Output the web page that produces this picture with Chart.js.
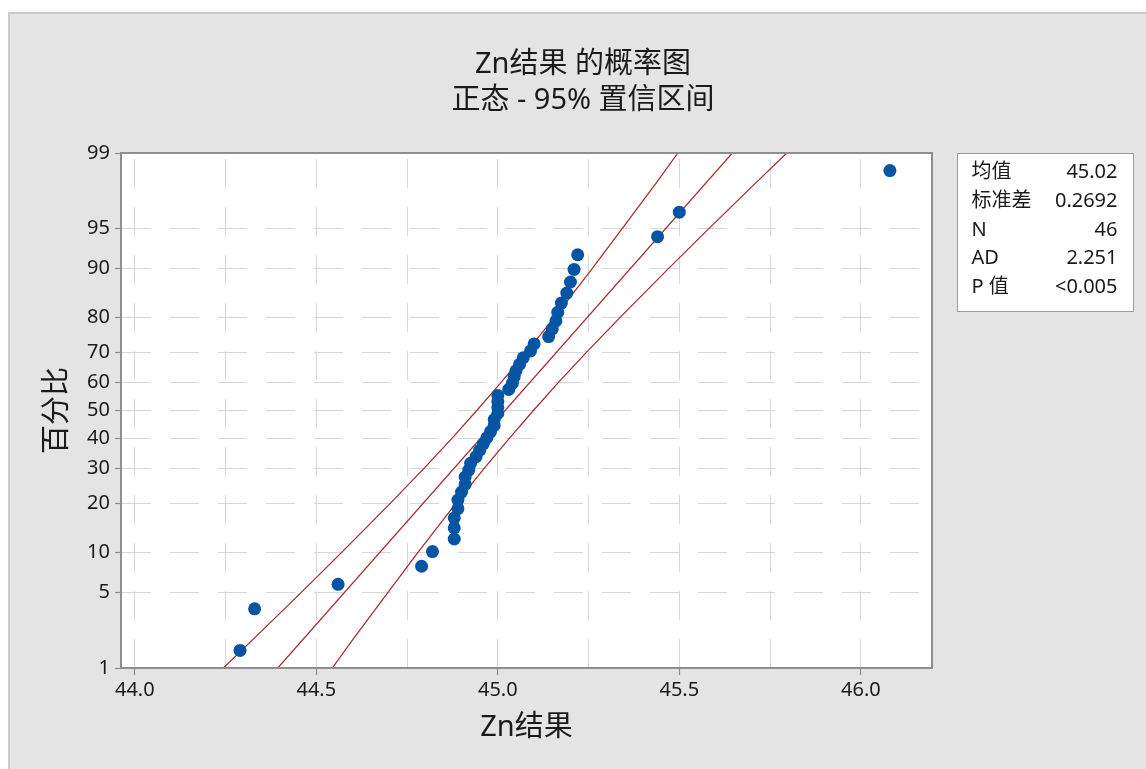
<!DOCTYPE html>
<html>
<head>
<meta charset="utf-8">
<script src="https://cdn.jsdelivr.net/npm/chart.js@4.4.1/dist/chart.umd.min.js"></script>
<style>
  html, body { margin: 0; padding: 0; background: #fff; width: 1146px; height: 769px; overflow: hidden; position: relative; }
  #panel { position: absolute; left: 8px; top: 12px; width: 1200px; height: 800px; background: #e4e4e4;
           border-left: 2px solid #cbcbcb; border-top: 2px solid #cbcbcb; }
  #c { position: absolute; left: 0; top: 0; }
</style>
</head>
<body>
<div id="panel"></div>
<canvas id="c" width="1146" height="769"></canvas>
<script>
// Zn results, sorted
const znValues = [
  44.29, 44.33, 44.56, 44.79, 44.82, 44.88, 44.88, 44.88, 44.89, 44.89,
  44.90, 44.91, 44.91, 44.92, 44.925, 44.94, 44.95, 44.96, 44.97, 44.98,
  44.99, 44.99, 45.00, 45.00, 45.00, 45.00, 45.03, 45.04, 45.045, 45.05,
  45.06, 45.07, 45.09, 45.10, 45.14, 45.15, 45.16, 45.165, 45.175, 45.19,
  45.20, 45.21, 45.22, 45.44, 45.50, 46.08
];
// cumulative percent (median ranks) for each sorted value
const znPercent = [
  1.51, 3.66, 5.82, 7.97, 10.13, 12.28, 14.44, 16.59, 18.75, 20.91,
  23.06, 25.22, 27.37, 29.53, 31.68, 33.84, 35.99, 38.15, 40.30, 42.46,
  44.61, 46.77, 48.92, 51.08, 53.23, 55.39, 57.54, 59.70, 61.85, 64.01,
  66.16, 68.32, 70.47, 72.63, 74.78, 76.94, 79.09, 81.25, 83.41, 85.56,
  87.72, 89.87, 92.03, 94.18, 96.34, 98.49
];
// fitted normal line endpoints
const fitPercent = [1, 99];
const fitX = [44.394, 45.646];
// 95% confidence band
const bandPercent = [1, 2, 5, 10, 20, 30, 40, 50, 60, 70, 80, 90, 95, 98, 99];
const bandLower = [44.244, 44.330, 44.458, 44.570, 44.703, 44.796, 44.873, 44.942, 45.009, 45.078, 45.156, 45.260, 45.343, 45.436, 45.496];
const bandUpper = [44.544, 44.604, 44.697, 44.780, 44.884, 44.962, 45.031, 45.098, 45.167, 45.244, 45.337, 45.470, 45.582, 45.710, 45.796];
// axes
const yTickPercents = [1, 5, 10, 20, 30, 40, 50, 60, 70, 80, 90, 95, 99];
const xGridValues = [44.0, 44.25, 44.5, 44.75, 45.0, 45.25, 45.5, 45.75, 46.0];
// summary table
const statLabels = ['均值', '标准差', 'N', 'AD', 'P 值'];
const statValues = ['45.02', '0.2692', '46', '2.251', '<0.005'];

const FONT = "'Noto Sans', 'Noto Sans CJK SC', sans-serif";
const TEXT = '#1a1a1a';
const GRID = '#d6d6d6';
const AXIS = '#8e8e8e';
const RED = '#a3272b';
const BLUE = '#0655a4';

// inverse standard normal CDF (Acklam)
function normInv(p) {
  const a = [-3.969683028665376e+01, 2.209460984245205e+02, -2.759285104469687e+02, 1.383577518672690e+02, -3.066479806614716e+01, 2.506628277459239e+00];
  const b = [-5.447609879822406e+01, 1.615858368580409e+02, -1.556989798598866e+02, 6.680131188771972e+01, -1.328068155288572e+01];
  const c = [-7.784894002430293e-03, -3.223964580411365e-01, -2.400758277161838e+00, -2.549732539343734e+00, 4.374664141464968e+00, 2.938163982698783e+00];
  const d = [7.784695709041462e-03, 3.224671290700398e-01, 2.445134137142996e+00, 3.754408661907416e+00];
  const pl = 0.02425, ph = 1 - pl;
  if (p < pl) {
    const q = Math.sqrt(-2 * Math.log(p));
    return (((((c[0]*q+c[1])*q+c[2])*q+c[3])*q+c[4])*q+c[5]) / ((((d[0]*q+d[1])*q+d[2])*q+d[3])*q+1);
  }
  if (p > ph) {
    const q = Math.sqrt(-2 * Math.log(1 - p));
    return -(((((c[0]*q+c[1])*q+c[2])*q+c[3])*q+c[4])*q+c[5]) / ((((d[0]*q+d[1])*q+d[2])*q+d[3])*q+1);
  }
  const q = p - 0.5, r = q * q;
  return (((((a[0]*r+a[1])*r+a[2])*r+a[3])*r+a[4])*r+a[5])*q / (((((b[0]*r+b[1])*r+b[2])*r+b[3])*r+b[4])*r+1);
}
function normCdf(z) {
  const t = 1 / (1 + 0.3275911 * Math.abs(z) / Math.SQRT2);
  const y = 1 - (((((1.061405429*t - 1.453152027)*t) + 1.421413741)*t - 0.284496736)*t + 0.254829592)*t * Math.exp(-z*z/2);
  return z >= 0 ? (1 + y) / 2 : (1 - y) / 2;
}

// Normal-probability axis: values are percents, spaced by normal quantile
class ProbabilityScale extends Chart.Scale {
  static id = 'probability';
  static defaults = {};
  determineDataLimits() {
    this.min = this.options.min;
    this.max = this.options.max;
  }
  buildTicks() {
    return (this.options.tickValues || []).map(v => ({ value: v }));
  }
  configure() {
    super.configure();
    this._zStart = normInv(this.min / 100);
    this._zRange = normInv(this.max / 100) - this._zStart;
  }
  getLabelForValue(v) { return String(v); }
  getPixelForValue(v) {
    return this.getPixelForDecimal((normInv(v / 100) - this._zStart) / this._zRange);
  }
  getValueForPixel(p) {
    return 100 * normCdf(this._zStart + this.getDecimalForPixel(p) * this._zRange);
  }
}
Chart.register(ProbabilityScale);

const isMajorX = v => Math.abs(v * 2 - Math.round(v * 2)) < 1e-6;

const plotBackground = {
  id: 'plotBackground',
  beforeDraw(chart) {
    const { ctx, chartArea: a } = chart;
    ctx.save();
    ctx.fillStyle = '#ffffff';
    ctx.fillRect(a.left, a.top, a.right - a.left, a.bottom - a.top);
    ctx.restore();
  }
};

const plotFrame = {
  id: 'plotFrame',
  afterDatasetsDraw(chart) {
    const { ctx, chartArea: a } = chart;
    ctx.save();
    ctx.strokeStyle = AXIS;
    ctx.lineWidth = 2;
    ctx.strokeRect(a.left, a.top, a.right - a.left, a.bottom - a.top);
    ctx.restore();
  }
};

const statsTable = {
  id: 'statsTable',
  afterDraw(chart) {
    const { ctx, chartArea: a } = chart;
    const x0 = a.right + 25.5, y0 = a.top + 0.5, w = 176, h = 158;
    ctx.save();
    ctx.fillStyle = '#ffffff';
    ctx.fillRect(x0, y0, w, h);
    ctx.strokeStyle = '#9c9c9c';
    ctx.lineWidth = 1;
    ctx.strokeRect(x0, y0, w, h);
    ctx.font = '20px ' + FONT;
    ctx.fillStyle = TEXT;
    ctx.textBaseline = 'middle';
    statLabels.forEach((lab, i) => {
      const y = y0 + 19 + i * 28.7;
      ctx.textAlign = 'left';
      ctx.fillText(lab, x0 + 14, y);
      ctx.textAlign = 'right';
      ctx.fillText(statValues[i], x0 + 160, y);
    });
    ctx.restore();
  }
};

const lineSet = (xs, ps) => ({
  data: ps.map((p, i) => ({ x: xs[i], y: p })),
  showLine: true,
  borderColor: RED,
  borderWidth: 1.2,
  pointRadius: 0,
  tension: 0,
  fill: false
});

new Chart(document.getElementById('c'), {
  type: 'scatter',
  data: {
    datasets: [
      {
        label: 'Zn结果',
        data: znValues.map((x, i) => ({ x, y: znPercent[i] })),
        pointRadius: 6.5,
        pointBackgroundColor: BLUE,
        pointBorderWidth: 0,
        showLine: false
      },
      lineSet(fitX, fitPercent),
      lineSet(bandLower, bandPercent),
      lineSet(bandUpper, bandPercent)
    ]
  },
  options: {
    responsive: false,
    devicePixelRatio: 1,
    animation: false,
    events: [],
    layout: { padding: { left: 20, right: 0, top: 0, bottom: 0 } },
    plugins: {
      legend: { display: false },
      tooltip: { enabled: false },
      title: {
        display: true,
        text: 'Zn结果 的概率图',
        color: TEXT,
        font: { family: FONT, size: 29, weight: 'normal', lineHeight: 1.2 },
        padding: { top: 47.6, bottom: 0 }
      },
      subtitle: {
        display: true,
        text: '正态 - 95% 置信区间',
        color: TEXT,
        font: { family: FONT, size: 29, weight: 'normal', lineHeight: 1.2 },
        padding: { top: 1.2, bottom: 34.6 }
      }
    },
    scales: {
      x: {
        type: 'linear',
        min: 43.962,
        max: 46.196,
        afterBuildTicks: s => { s.ticks = xGridValues.map(v => ({ value: v })); },
        afterFit: s => { s.height = 101; },
        ticks: {
          autoSkip: false,
          maxRotation: 0,
          padding: 3,
          color: TEXT,
          font: { family: FONT, size: 20 },
          callback: v => isMajorX(v) ? v.toFixed(1) : ''
        },
        grid: {
          color: GRID,
          lineWidth: 1,
          tickLength: 7,
          tickWidth: 1.2,
          tickColor: ctx => (ctx.tick && isMajorX(ctx.tick.value)) ? AXIS : 'rgba(0,0,0,0)'
        },
        border: { display: false, dash: [29, 19], dashOffset: 42 },
        title: {
          display: true,
          text: 'Zn结果',
          color: TEXT,
          font: { family: FONT, size: 29, lineHeight: 1.2 },
          padding: { top: 0, bottom: 23.6 }
        }
      },
      y: {
        type: 'probability',
        position: 'left',
        min: 1,
        max: 99,
        tickValues: yTickPercents,
        afterFit: s => { s.width = 101; },
        ticks: {
          autoSkip: false,
          padding: 5,
          color: TEXT,
          font: { family: FONT, size: 20 },
          callback: v => String(v)
        },
        grid: { color: GRID, lineWidth: 1, tickLength: 6, tickWidth: 1.2, tickColor: AXIS },
        border: { display: false, dash: [29, 19], dashOffset: 47 },
        title: {
          display: true,
          text: '百分比',
          color: TEXT,
          font: { family: FONT, size: 29, lineHeight: 1.2 },
          padding: { top: 20, bottom: 0 }
        }
      },
      side: {
        type: 'linear',
        position: 'right',
        display: true,
        afterFit: s => { s.width = 214; },
        ticks: { display: false },
        grid: { display: false, drawTicks: false },
        border: { display: false }
      }
    }
  },
  plugins: [plotBackground, plotFrame, statsTable]
});
</script>
</body>
</html>
